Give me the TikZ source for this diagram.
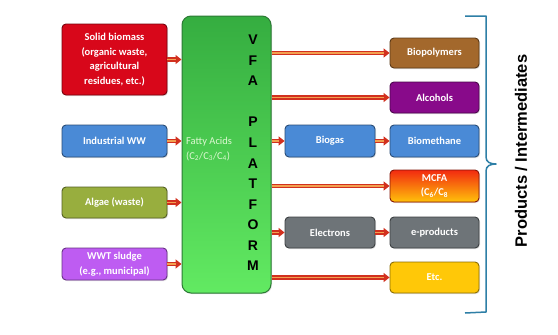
\documentclass[tikz,border=0pt]{standalone}
\usepackage{fontspec}
\setmainfont{Carlito}
\newfontfamily\headfont{Liberation Sans}
\usetikzlibrary{arrows.meta,shadows}
\definecolor{solidred}{HTML}{D8071A}
\definecolor{wwblue}{HTML}{4A8AD6}
\definecolor{algaeolive}{HTML}{98AE3E}
\definecolor{sludgeviolet}{HTML}{BE5CF2}
\definecolor{platdark}{HTML}{35AD40}
\definecolor{platlight}{HTML}{62EA62}
\definecolor{platedge}{HTML}{2C7A35}
\definecolor{polybrown}{HTML}{A3682C}
\definecolor{alcpurple}{HTML}{880A8A}
\definecolor{mcfatop}{HTML}{F22A10}
\definecolor{mcfabot}{HTML}{FFC20A}
\definecolor{elgrey}{HTML}{6E7478}
\definecolor{etcgold}{HTML}{FFC808}
\definecolor{arrred}{HTML}{D2301E}
\definecolor{arrorange}{HTML}{F2A050}
\definecolor{bracketblue}{HTML}{2E7FA6}
\definecolor{fattytext}{HTML}{DDF8D2}
\tikzset{
  box/.style   = {draw=#1!55!black, fill=#1, rounded corners=4pt, line width=0.9pt,
                  text=white, align=center, inner sep=1pt,
                  font=\bfseries\fontsize{10.5}{14.5}\selectfont,
                  drop shadow={opacity=0.25, shadow xshift=1pt, shadow yshift=-1pt}},
  srcbox/.style  = {box=#1, minimum width=105pt},
  prodbox/.style = {box=#1, minimum width=89pt},
  midbox/.style  = {box=#1, minimum width=90pt},
  flow/.style  = {draw=arrred, line width=4.2pt, -{Triangle[length=6pt,width=9pt]},
                  postaction={draw=arrorange, line width=1.5pt, -, shorten >=6pt}},
}
\begin{document}
\begin{tikzpicture}[x=1pt,y=-1pt]
    \useasboundingbox[fill=white] (0,0) rectangle (558,335);
    % feedstocks
    \node[srcbox=solidred, minimum height=71pt] (solid) at (114.5,59.5)
      {Solid biomass\\(organic waste,\\agricultural\\residues, etc.)};
    \node[srcbox=wwblue, minimum height=32pt] (indww) at (114.5,141) {Industrial WW};
    \node[srcbox=algaeolive, minimum height=31pt] (algae) at (114.5,202.5) {Algae (waste)};
    \node[srcbox=sludgeviolet, minimum height=32pt] (sludge) at (114.5,264)
      {WWT sludge\\(e.g., municipal)};
    % platform
    \node[draw=platedge, top color=platdark, bottom color=platlight, rounded corners=9pt,
          line width=1pt, minimum width=89pt, minimum height=277pt,
          drop shadow={opacity=0.25, shadow xshift=1pt, shadow yshift=-1pt}]
      (plat) at (226.5,154.5) {};
    \node[text=fattytext, anchor=west, align=left, inner sep=0pt,
          font=\fontsize{10.5}{15}\selectfont] (fatty) at (186,149)
      {Fatty Acids\\(C\textsubscript{2}/C\textsubscript{3}/C\textsubscript{4})};
    \node[align=center, inner sep=0pt, font=\headfont\bfseries\fontsize{14}{20.55}\selectfont]
      (letters) at (253,153) {V\\F\\A\\[20.55pt]P\\L\\A\\T\\F\\O\\R\\M};
    % intermediates
    \node[midbox=wwblue, minimum height=32pt] (biogas) at (330,141) {Biogas};
    \node[midbox=elgrey, minimum height=31pt] (electrons) at (330,232.5) {Electrons};
    % products
    \node[prodbox=polybrown, minimum height=30pt] (biopoly) at (434.5,53) {Biopolymers};
    \node[prodbox=alcpurple, minimum height=31pt] (alcohols) at (434.5,97.5) {Alcohols};
    \node[prodbox=wwblue, minimum height=32pt] (biometh) at (434.5,141) {Biomethane};
    \node[prodbox=mcfatop, top color=mcfatop, bottom color=mcfabot, minimum height=32pt]
      (mcfa) at (434.5,186) {MCFA\\(C\textsubscript{6}/C\textsubscript{8}};
    \node[prodbox=elgrey, minimum height=31pt] (eprod) at (434.5,232.5) {e-products};
    \node[prodbox=etcgold, minimum height=31pt] (etc) at (434.5,277.5) {Etc.};
    % arrows
    \foreach \n in {solid,indww,algae,sludge}{
      \draw[flow] (\n.east) -- (\n.east -| plat.west);}
    \foreach \n in {biopoly,alcohols,mcfa,etc}{
      \draw[flow] (plat.east |- \n.west) -- (\n.west);}
    \draw[flow] (plat.east |- biogas.west) -- (biogas.west);
    \draw[flow] (plat.east |- electrons.west) -- (electrons.west);
    \draw[flow] (biogas.east) -- (biometh.west);
    \draw[flow] (electrons.east) -- (eprod.west);
    % bracket
    \draw[bracketblue, line width=1.5pt, line join=round]
      (465,16) -- (486,16) -- (486,157)
      .. controls (486,162) and (490,164) .. (496,164)
      .. controls (490,164) and (486,166) .. (486,171)
      -- (486,312) -- (465,313);
    \node[rotate=90, font=\headfont\bfseries\fontsize{16.5}{19}\selectfont] (prodlab)
      at (521,151) {Products / Intermediates};
\end{tikzpicture}
\end{document}
